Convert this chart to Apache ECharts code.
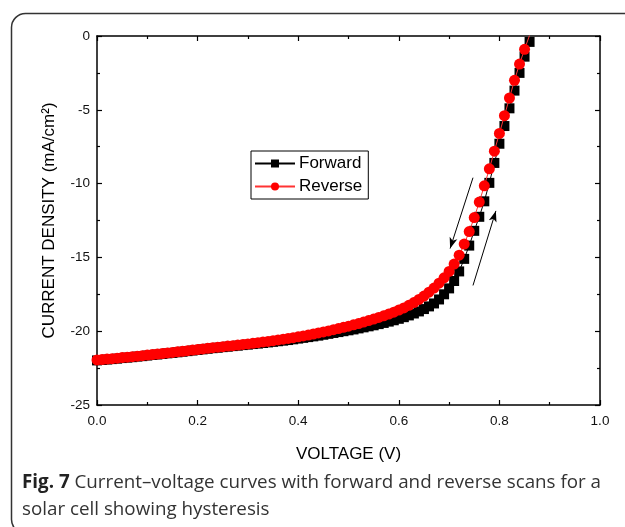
<!DOCTYPE html>
<html>
<head>
<meta charset="utf-8">
<script src="https://cdn.jsdelivr.net/npm/echarts@6/dist/echarts.min.js"></script>
<style>
  html, body { margin: 0; padding: 0; background: #fff; }
  #chart { width: 625px; height: 527px; }
</style>
</head>
<body>
<div id="chart"></div>
<script>
/* ---------- data ---------- */
const voltage = [
  0.00, 0.01, 0.02, 0.03, 0.04, 0.05, 0.06, 0.07, 0.08, 0.09,
  0.10, 0.11, 0.12, 0.13, 0.14, 0.15, 0.16, 0.17, 0.18, 0.19,
  0.20, 0.21, 0.22, 0.23, 0.24, 0.25, 0.26, 0.27, 0.28, 0.29,
  0.30, 0.31, 0.32, 0.33, 0.34, 0.35, 0.36, 0.37, 0.38, 0.39,
  0.40, 0.41, 0.42, 0.43, 0.44, 0.45, 0.46, 0.47, 0.48, 0.49,
  0.50, 0.51, 0.52, 0.53, 0.54, 0.55, 0.56, 0.57, 0.58, 0.59,
  0.60, 0.61, 0.62, 0.63, 0.64, 0.65, 0.66, 0.67, 0.68, 0.69,
  0.70, 0.71, 0.72, 0.73, 0.74, 0.75, 0.76, 0.77, 0.78, 0.79,
  0.80, 0.81, 0.82, 0.83, 0.84, 0.85, 0.86
]

const forwardJ = [
  -21.98, -21.95, -21.92, -21.89, -21.86, -21.82, -21.79, -21.76, -21.72, -21.69,
  -21.65, -21.61, -21.58, -21.54, -21.50, -21.47, -21.43, -21.39, -21.35, -21.31,
  -21.27, -21.23, -21.19, -21.15, -21.12, -21.08, -21.05, -21.01, -20.98, -20.94,
  -20.91, -20.87, -20.84, -20.80, -20.76, -20.72, -20.68, -20.64, -20.60, -20.55,
  -20.50, -20.45, -20.40, -20.35, -20.30, -20.24, -20.18, -20.12, -20.06, -20.00,
  -19.94, -19.88, -19.81, -19.74, -19.67, -19.60, -19.52, -19.44, -19.35, -19.26,
  -19.16, -19.05, -18.93, -18.80, -18.66, -18.50, -18.32, -18.12, -17.85, -17.50,
  -17.10, -16.60, -15.95, -15.10, -14.20, -13.20, -12.25, -11.20, -9.95, -8.60,
  -7.30, -6.10, -4.90, -3.70, -2.50, -1.40, -0.40
]

const reverseJ = [
  -21.95, -21.92, -21.89, -21.86, -21.83, -21.79, -21.76, -21.73, -21.69, -21.66,
  -21.62, -21.58, -21.55, -21.51, -21.47, -21.44, -21.40, -21.36, -21.32, -21.28,
  -21.24, -21.20, -21.16, -21.12, -21.08, -21.05, -21.01, -20.98, -20.94, -20.90,
  -20.86, -20.82, -20.78, -20.73, -20.69, -20.64, -20.59, -20.54, -20.49, -20.44,
  -20.38, -20.32, -20.26, -20.19, -20.12, -20.05, -19.98, -19.90, -19.82, -19.74,
  -19.66, -19.57, -19.48, -19.38, -19.28, -19.18, -19.07, -18.96, -18.84, -18.71,
  -18.57, -18.42, -18.25, -18.06, -17.85, -17.62, -17.36, -17.08, -16.75, -16.38,
  -15.95, -15.45, -14.85, -14.10, -13.25, -12.30, -11.25, -10.15, -9.00, -7.80,
  -6.60, -5.40, -4.20, -3.00, -1.90, -0.90, 0.05
]

// scan-direction arrows: [startV, startJ, endV, endJ]
const arrowReverse = [0.7475, -9.6, 0.702, -14.4]
const arrowForward = [0.7475, -16.9, 0.793, -11.85]

const seriesNames = ['Forward', 'Reverse']
const xTicks = { min: 0, max: 1, interval: 0.2 }
const yTicks = { min: -25, max: 0, interval: 5 }

/* ---------- chart ---------- */
const chart = echarts.init(document.getElementById('chart'))
const font = '"Liberation Sans", Arial, sans-serif'
const captionFont = '"Open Sans", sans-serif'

function toPairs(ys) {
  return voltage.map((v, i) => [v, ys[i]])
}

function arrowLine(a) {
  return [
    { coord: [a[0], a[1]], symbol: 'none' },
    { coord: [a[2], a[3]], symbol: 'arrow', symbolSize: [6, 11] }
  ]
}

const boxAxis = {
  axisLine: { show: true, onZero: false, lineStyle: { color: '#000', width: 1.5 } },
  axisTick: { show: true, inside: true, length: 5, lineStyle: { color: '#000', width: 1.2 } },
  minorTick: { show: true, splitNumber: 2, length: 3, lineStyle: { color: '#000', width: 1.2 } },
  splitLine: { show: false }
}

chart.setOption({
  animation: false,
  backgroundColor: '#fff',
  grid: { left: 97, right: 25, top: 36, bottom: 122 },
  legend: {
    data: seriesNames,
    orient: 'vertical',
    left: 251,
    top: 151,
    padding: [4, 6, 4, 3],
    itemWidth: 40,
    itemHeight: 10,
    itemGap: 6,
    borderColor: '#000',
    borderWidth: 1,
    borderRadius: 0,
    selectedMode: false,
    textStyle: { fontFamily: font, fontSize: 17, color: '#000', lineHeight: 16, padding: [0, 0, 0, -1] }
  },
  xAxis: [
    {
      type: 'value', position: 'bottom', ...xTicks,
      ...boxAxis,
      axisLabel: {
        margin: 9, fontFamily: font, fontSize: 13.5, color: '#111',
        formatter: (v) => v.toFixed(1)
      },
      name: 'VOLTAGE (V)',
      nameLocation: 'middle',
      nameGap: 41,
      nameTextStyle: { fontFamily: font, fontSize: 17, color: '#000' }
    },
    {
      type: 'value', position: 'top', ...xTicks,
      ...boxAxis,
      axisLabel: { show: false }
    }
  ],
  yAxis: [
    {
      type: 'value', position: 'left', ...yTicks,
      ...boxAxis,
      axisLabel: { margin: 7, fontFamily: font, fontSize: 13.5, color: '#111' },
      name: 'CURRENT DENSITY (mA/cm²)',
      nameLocation: 'middle',
      nameGap: 39,
      nameTextStyle: { fontFamily: font, fontSize: 17, color: '#000' }
    },
    {
      type: 'value', position: 'right', ...yTicks,
      ...boxAxis,
      axisLabel: { show: false }
    }
  ],
  series: [
    {
      name: 'Forward',
      type: 'line',
      data: toPairs(forwardJ),
      symbol: 'rect',
      symbolSize: 10,
      itemStyle: { color: '#000' },
      lineStyle: { color: '#000', width: 1 },
      z: 2,
      markLine: {
        silent: true,
        animation: false,
        label: { show: false },
        lineStyle: { color: '#000', width: 1, type: 'solid' },
        data: [arrowLine(arrowReverse), arrowLine(arrowForward)]
      }
    },
    {
      name: 'Reverse',
      type: 'line',
      data: toPairs(reverseJ),
      symbol: 'circle',
      symbolSize: 11,
      itemStyle: { color: '#ff0000' },
      lineStyle: { color: '#ff3333', width: 1 },
      z: 3
    }
  ],
  graphic: [
    {
      type: 'rect',
      shape: { x: 11.5, y: 13.5, width: 720, height: 520, r: 14 },
      style: { fill: 'none', stroke: '#333', lineWidth: 1.5 },
      silent: true
    },
    {
      type: 'text',
      left: 22,
      top: 473,
      style: {
        text: '{b|Fig. 7} Current–voltage curves with forward and reverse scans for a',
        fontFamily: captionFont,
        fontSize: 18.8,
        fill: '#333',
        rich: { b: { fontWeight: 'bold', fontFamily: captionFont, fontSize: 18.8, fill: '#222' } }
      },
      silent: true
    },
    {
      type: 'text',
      left: 22,
      top: 500,
      style: {
        text: 'solar cell showing hysteresis',
        fontFamily: captionFont,
        fontSize: 18.8,
        fill: '#333'
      },
      silent: true
    }
  ]
})
</script>
</body>
</html>
